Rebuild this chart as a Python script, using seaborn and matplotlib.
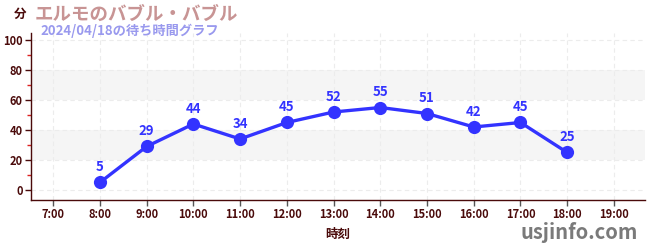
import matplotlib
matplotlib.use("Agg")
import matplotlib.pyplot as plt
import seaborn as sns
import pandas as pd
from matplotlib.ticker import MultipleLocator

hours = [8, 9, 10, 11, 12, 13, 14, 15, 16, 17, 18]
waits = [5, 29, 44, 34, 45, 52, 55, 51, 42, 45, 25]
tick_hours = list(range(7, 20))
tick_labels = [f"{h}:00" for h in tick_hours]
title = "エルモのバブル・バブル"
subtitle = "2024/04/18の待ち時間グラフ"

sns.set_theme(style="white")
plt.rcParams['font.family'] = ['Noto Sans CJK JP', 'DejaVu Sans']

df = pd.DataFrame({"hour": hours, "wait": waits})

fig = plt.figure(figsize=(6.5, 2.5), dpi=100)
ax = fig.add_axes([0.048, 0.2, 0.944, 0.668])

dark = "#4a0a0a"
blue = "#3333ff"

for lo, hi in [(20, 40), (60, 80)]:
    ax.axhspan(lo, hi, color="#f5f5f5", zorder=0, lw=0)

sns.lineplot(data=df, x="hour", y="wait", ax=ax, color=blue, lw=2.4,
             marker="o", markersize=9.5, markeredgewidth=0, zorder=3)

for h, w in zip(hours, waits):
    ax.annotate(str(w), (h, w), xytext=(0, 6), textcoords="offset points",
                ha="center", va="bottom", color=blue, fontsize=9.5,
                fontweight="bold")

ax.set_xlim(6.53, 19.66)
ax.set_ylim(-6.7, 104.7)
ax.set_xticks(tick_hours)
ax.set_xticklabels(tick_labels, fontweight="bold")
ax.set_yticks(range(0, 101, 20))
for lab in ax.get_yticklabels():
    lab.set_fontweight("bold")
ax.yaxis.set_minor_locator(MultipleLocator(10))
ax.grid(True, which="major", axis="both", color="#ececec", ls=(0, (4, 3)), lw=0.8)
for s in ["top", "right"]:
    ax.spines[s].set_visible(False)
for s in ["left", "bottom"]:
    ax.spines[s].set_color(dark)
    ax.spines[s].set_linewidth(1)
ax.tick_params(axis="both", which="major", length=4, width=1, color="#555555",
               labelcolor=dark, labelsize=8, left=True, bottom=True, pad=2)
ax.tick_params(axis="y", which="major", color=dark)
ax.tick_params(axis="y", which="minor", length=3, width=1, color="#dd2222", left=True)
ax.set_xlabel("時刻", color=dark, fontsize=9, fontweight="bold", labelpad=5)
ax.set_ylabel("")

fig.text(0.031, 0.944, "分", color=dark, fontsize=9, fontweight="bold", ha="center", va="center")
fig.text(0.054, 0.944, title, color="#c89494", fontsize=13.3, fontweight="bold", va="center")
fig.text(0.063, 0.878, subtitle, color="#9999ee", fontsize=9.5, fontweight="bold", va="center")
fig.text(0.982, 0.07, "usjinfo.com", color="#7a7a7a", fontsize=14.5, fontweight="bold",
         ha="right", va="center")

fig.savefig("out.png", dpi=100)
